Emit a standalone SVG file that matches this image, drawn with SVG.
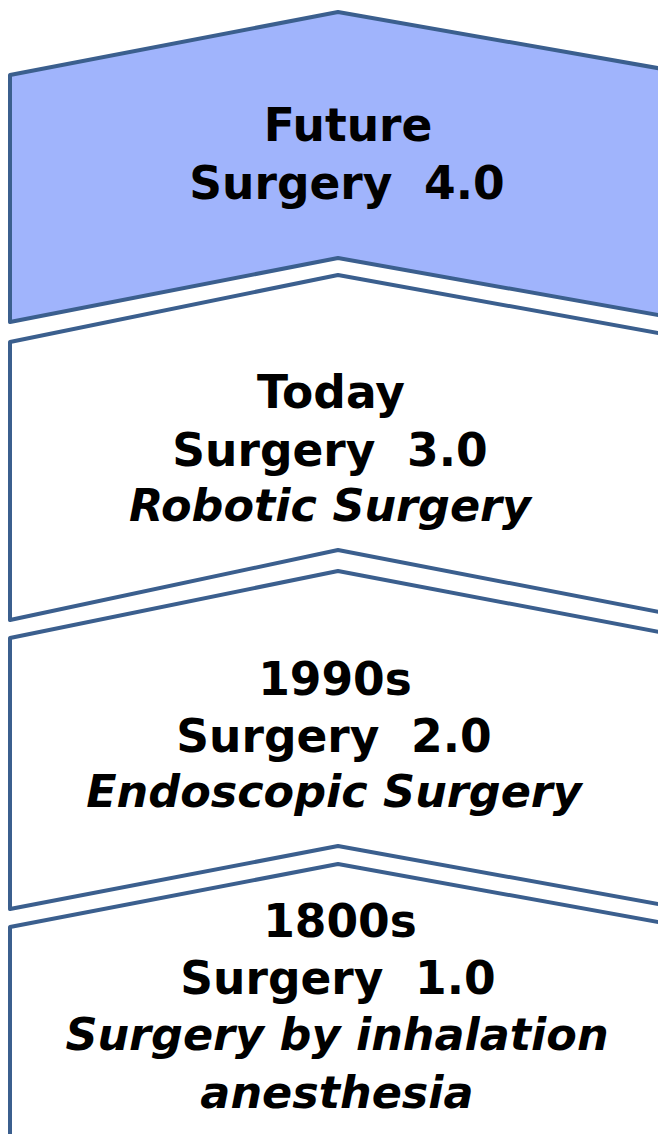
<svg xmlns="http://www.w3.org/2000/svg" width="658" height="1134" viewBox="0 0 658 1134">
<style>
.sh{stroke:#3B5F8E;stroke-width:4;stroke-linejoin:round}
.t{font-family:"DejaVu Sans",Verdana,sans-serif;font-weight:bold;font-size:45.5px;fill:#000;text-anchor:middle}
.i{font-style:italic;font-size:44.5px}
</style>
<rect width="658" height="1134" fill="#fff"/>
<g id="node-surgery4">
<path class="sh" fill="#A0B4FC" d="M10,75 L338,12 L680,72 L680,319 L338,258 L10,322 Z"/>
<text class="t" x="348" y="141">Future</text>
<text class="t" x="347" y="199" xml:space="preserve">Surgery  4.0</text>
</g>
<g id="node-surgery3">
<path class="sh" fill="#fff" d="M10,342 L338,275 L680,337 L680,616 L338,550 L10,620 Z"/>
<text class="t" x="331" y="408">Today</text>
<text class="t" x="330" y="466" xml:space="preserve">Surgery  3.0</text>
<text class="t i" x="330" y="521">Robotic Surgery</text>
</g>
<g id="node-surgery2">
<path class="sh" fill="#fff" d="M10,638 L338,571 L680,636 L680,908 L338,846 L10,909 Z"/>
<text class="t" x="335" y="695">1990s</text>
<text class="t" x="334" y="752" xml:space="preserve">Surgery  2.0</text>
<text class="t i" x="334" y="807">Endoscopic Surgery</text>
</g>
<g id="node-surgery1">
<path class="sh" fill="#fff" d="M10,927 L338,864 L680,926 L680,1160 L10,1160 Z"/>
<text class="t" x="340" y="937">1800s</text>
<text class="t" x="338" y="994" xml:space="preserve">Surgery  1.0</text>
<text class="t i" x="337" y="1050">Surgery by inhalation</text>
<text class="t i" x="337" y="1108">anesthesia</text>
</g>
<g id="connectors"></g>
</svg>
